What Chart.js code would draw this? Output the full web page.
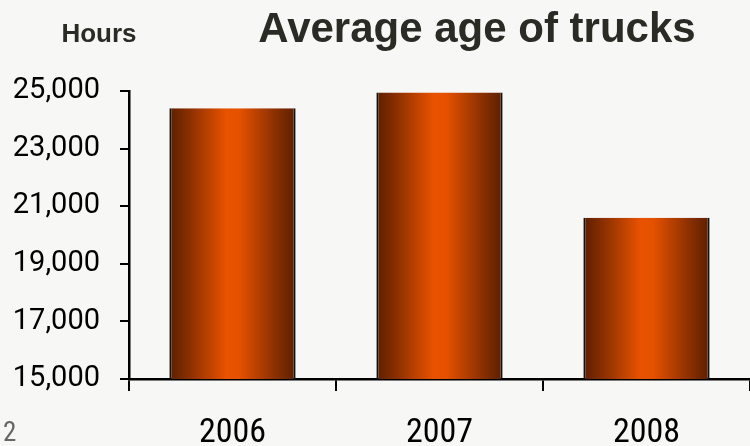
<!DOCTYPE html>
<html>
<head>
<meta charset="utf-8">
<script src="https://cdn.jsdelivr.net/npm/chart.js@4"></script>
<style>
  html, body { margin: 0; padding: 0; background: #f7f7f5; }
  #wrap { width: 750px; height: 446px; }
</style>
</head>
<body>
<div id="wrap"><canvas id="truckChart"></canvas></div>
<script>
// Average truck age in operating hours, per year
const years = ['2006', '2007', '2008'];
const avgHours = [24400, 24950, 20600];
const yMin = 15000;
const yMax = 25000;
const yStep = 2000;

const barPct = 0.61;

// Copper shading across each bar, worked out from the category scale
function copper(ctx) {
    const chart = ctx.chart;
    const x = chart.scales.x;
    if (!x || ctx.type !== 'data') return '#e85200';
    const mid = x.getPixelForValue(ctx.dataIndex);
    const half = (x.width / years.length) * barPct / 2;
    if (!isFinite(mid) || !isFinite(half) || half <= 0) return '#e85200';
    const g = chart.ctx.createLinearGradient(mid - half, 0, mid + half, 0);
    g.addColorStop(0, '#5c1f00');
    g.addColorStop(0.16, '#8a3000');
    g.addColorStop(0.45, '#e85200');
    g.addColorStop(0.55, '#e65100');
    g.addColorStop(0.84, '#8a3000');
    g.addColorStop(1, '#5c1f00');
    return g;
}

// Headings and slide number
const labels = {
    id: 'labels',
    afterDraw(chart) {
        const ctx = chart.ctx;
        ctx.save();
        ctx.textBaseline = 'alphabetic';
        ctx.textAlign = 'center';
        ctx.fillStyle = '#2b2b25';
        ctx.font = 'bold 42px "Liberation Sans", Arial, sans-serif';
        ctx.fillText('Average age of trucks', 477, 42);
        ctx.font = 'bold 26px "Liberation Sans", Arial, sans-serif';
        ctx.fillText('Hours', 99, 42);
        ctx.textAlign = 'left';
        ctx.fillStyle = '#666';
        ctx.font = '27px "Roboto Condensed", sans-serif';
        ctx.fillText('2', 3, 441);
        ctx.restore();
    }
};

new Chart(document.getElementById('truckChart'), {
    type: 'bar',
    data: {
        labels: years,
        datasets: [{
            data: avgHours,
            backgroundColor: copper,
            borderColor: '#111',
            borderWidth: { left: 2, right: 2, top: 0, bottom: 0 },
            borderSkipped: false,
            barPercentage: barPct,
            categoryPercentage: 1.0
        }]
    },
    options: {
        responsive: true,
        maintainAspectRatio: false,
        animation: false,
        layout: { padding: { top: 91, right: 0, left: 0, bottom: 0 } },
        plugins: {
            legend: { display: false },
            tooltip: { enabled: false }
        },
        scales: {
            x: {
                afterFit(scale) { scale.height = 67; },
                border: { color: '#000', width: 2.5 },
                grid: {
                    drawOnChartArea: false,
                    drawTicks: true,
                    tickLength: 12,
                    color: '#000',
                    lineWidth: 2
                },
                ticks: {
                    color: '#000',
                    padding: 22,
                    font: { family: '"Roboto Condensed", sans-serif', size: 34 }
                }
            },
            y: {
                min: yMin,
                max: yMax,
                afterFit(scale) { scale.width = 129; },
                border: { color: '#000', width: 2.5 },
                grid: {
                    drawOnChartArea: false,
                    drawTicks: true,
                    tickLength: 9,
                    color: '#000',
                    lineWidth: 2
                },
                ticks: {
                    stepSize: yStep,
                    color: '#000',
                    padding: 20,
                    font: { family: 'Roboto, sans-serif', size: 29 },
                    callback: v => v.toLocaleString('en-US')
                }
            }
        }
    },
    plugins: [labels]
});
</script>
</body>
</html>
